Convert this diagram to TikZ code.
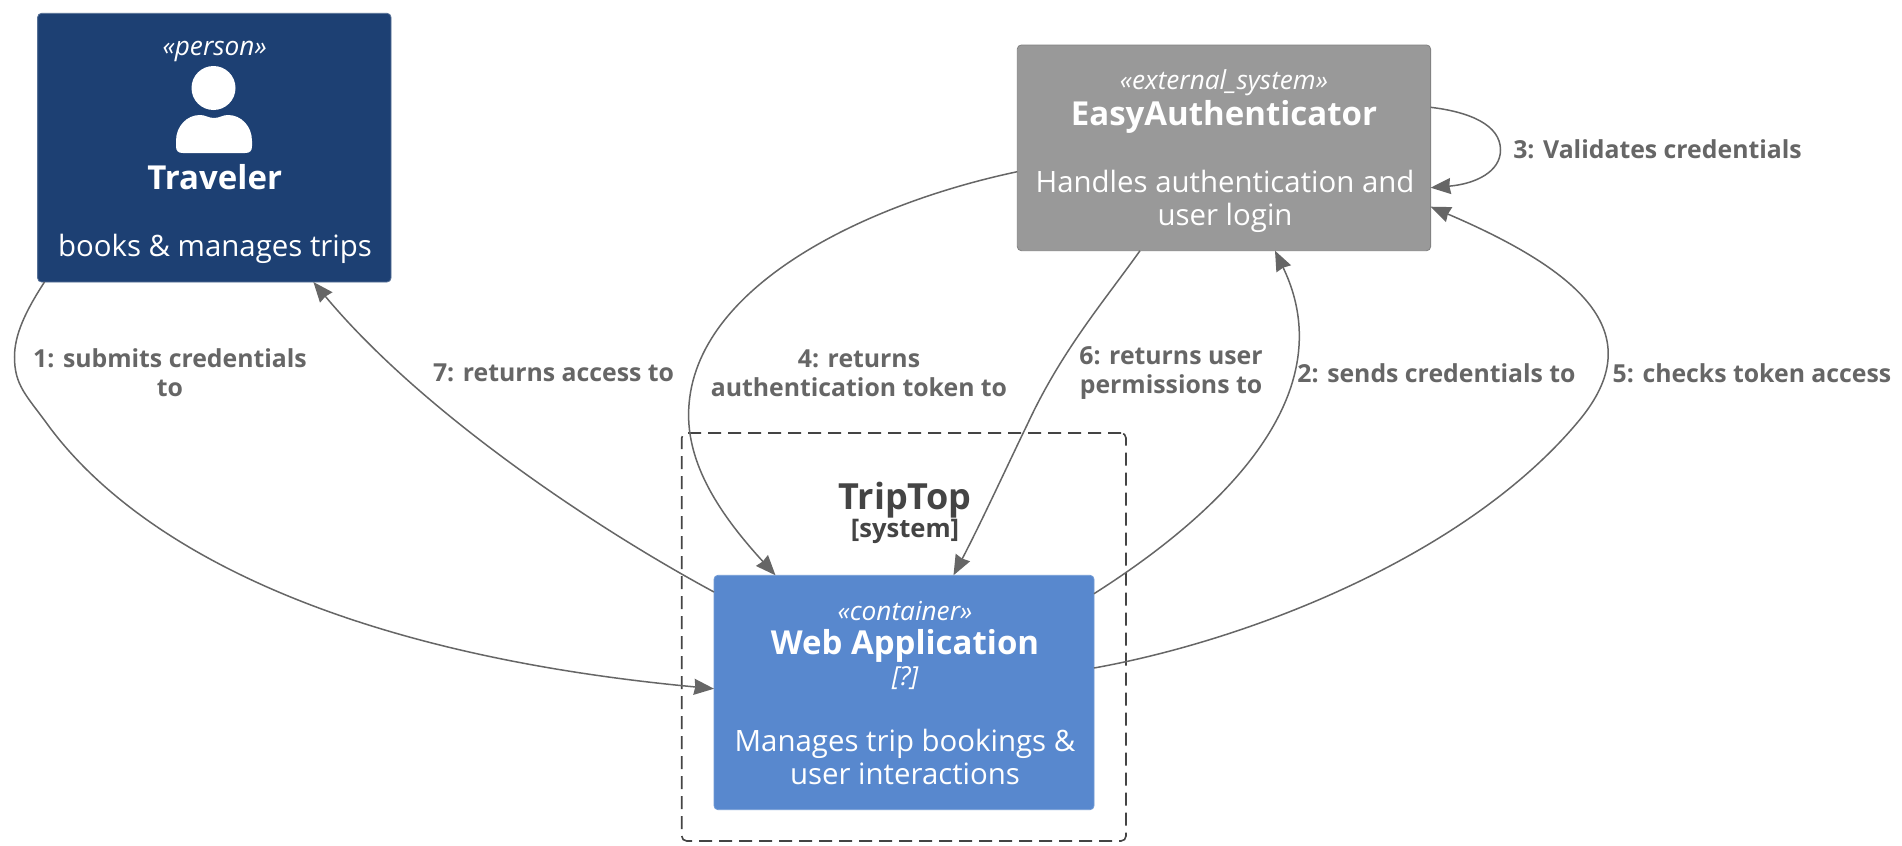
\documentclass[tikz,border=0pt]{standalone}
\usepackage{fontspec}
\setmainfont{Open Sans}
\usetikzlibrary{arrows.meta}
\definecolor{cTrav}{HTML}{1D4073}
\definecolor{cExt}{HTML}{999999}
\definecolor{cWeb}{HTML}{5888CE}
\definecolor{cLine}{HTML}{666666}
\definecolor{cDash}{HTML}{444444}
\tikzset{
  box/.style={rectangle,rounded corners=2pt,outer sep=0pt,inner sep=0pt,line width=0.4pt,anchor=north west},
  stereo/.style={text=white,font=\fontsize{13.1}{15}\selectfont\itshape,inner sep=0pt},
  title/.style={text=white,font=\fontsize{16.5}{18}\selectfont\bfseries,inner sep=0pt},
  desc/.style={text=white,font=\fontsize{14.7}{16.7}\selectfont,inner sep=0pt,align=center},
  rellabel/.style={text=cLine,font=\fontsize{12.4}{14.5}\selectfont\bfseries,inner sep=0pt,align=center},
  rel/.style={draw=cLine,line width=0.75pt,-{Stealth[length=10pt,width=8pt,inset=0.6pt]}}
}
\begin{document}
\begin{tikzpicture}[x=0.5pt,y=-0.5pt]
\useasboundingbox (0,0) rectangle (1902,846);
\fill[white] (0,0) rectangle (1902,846);
% boundary
\node[box,rounded corners=2.5pt,draw=cDash,dashed,dash pattern=on 6.5pt off 3.5pt,line width=0.8pt,minimum width=222.15pt,minimum height=204pt] (bound) at (681.7,433) {};
\node[inner sep=0pt,text=cDash,font=\fontsize{18}{20}\selectfont\bfseries] (tt) at (905,500.5) {TripTop};
\node[inner sep=0pt,text=cDash,font=\fontsize{12.8}{14}\selectfont\bfseries] (ttk) at (905,531) {[system]};
% traveler
\node[box,fill=cTrav,draw=cTrav!75!white,minimum width=176.7pt,minimum height=134.35pt] (trav) at (37.6,13.3) {};
\node[stereo] (travs) at (214.7,51) {«person»};
\fill[white] (213.5,88) ellipse (22 and 22);
\fill[white] (183,153) -- (245,153) .. controls (250,153) and (252,151) .. (252,146) -- (252,141) .. controls (252,126) and (241,115) .. (228,115) .. controls (222,115) and (220,118) .. (214,118) .. controls (208,118) and (206,115) .. (200,115) .. controls (187,115) and (176,126) .. (176,141) -- (176,146) .. controls (176,151) and (178,153) .. (183,153) -- cycle;
\node[title] (travn) at (214.7,177) {Traveler};
\node[desc] (travd) at (215,249) {books \& manages trips};
% external
\node[box,fill=cExt,draw=cExt!85!black,minimum width=206.65pt,minimum height=102.85pt] (ext) at (1017.3,45) {};
\node[stereo] (exts) at (1224,82.5) {«external\_system»};
\node[title] (extn) at (1224,116.5) {EasyAuthenticator};
\node[desc] (extd) at (1225,201.5) {Handles authentication and\\user login};
% web
\node[box,fill=cWeb,draw=cWeb!85!white,minimum width=190pt,minimum height=117.2pt] (web) at (714,575.3) {};
\node[stereo] (webs) at (905,611) {«container»};
\node[title] (webn) at (905,646) {Web Application};
\node[stereo] (webt) at (905,678) {[?]};
\node[desc] (webd) at (905,757) {Manages trip bookings \&\\user interactions};
% connectors
\draw[rel] ([xshift=3.45pt]trav.south west) .. controls (25,312) and (14.5,335) .. (14.5,357) .. controls (14.5,385) and (26,395) .. (46.5,423) .. controls (120,525) and (300,650) .. ([yshift=-56.7pt]web.north west);
\draw[rel] ([yshift=-9.2pt]web.north east) .. controls (1210,520) and (1347,400) .. ([xshift=128.85pt]ext.south west);
\draw[rel] ([yshift=-31.15pt]ext.north east) .. controls (1470,112) and (1500.5,125) .. (1500.5,150) .. controls (1500.5,172) and (1475,184) .. ([yshift=-71.35pt]ext.north east);
\draw[rel] ([yshift=-63.35pt]ext.north west) .. controls (860,205) and (688.6,290) .. (688.6,415) .. controls (688.6,470) and (725,520) .. ([xshift=30.75pt]web.north west);
\draw[rel] ([yshift=-46.35pt]web.north east) .. controls (1250,640) and (1465,556) .. (1577,423) .. controls (1648,340) and (1595,277) .. ([yshift=-80.85pt]ext.north east);
\draw[rel] ([xshift=61.35pt]ext.south west) .. controls (1105,300) and (1062,350) .. (1028,423) .. controls (1010,460) and (980,525) .. ([xshift=119.75pt]web.north west);
\draw[rel] ([yshift=-8.35pt]web.north west) .. controls (590,525) and (420,410) .. ([xshift=137.9pt]trav.south west);
% labels
\node[rellabel] (l1) at (170,373) {1: submits credentials\\to};
\node[rellabel] (l2) at (1436.5,373) {2: sends credentials to};
\node[rellabel] (l3) at (1657.5,149) {3: Validates credentials};
\node[rellabel] (l4) at (859,373) {4: returns\\authentication token to};
\node[rellabel] (l5) at (1752,373) {5: checks token access};
\node[rellabel] (l6) at (1171,373) {6: returns user\\permissions to};
\node[rellabel] (l7) at (553.5,373) {7: returns access to};
\end{tikzpicture}
\end{document}
